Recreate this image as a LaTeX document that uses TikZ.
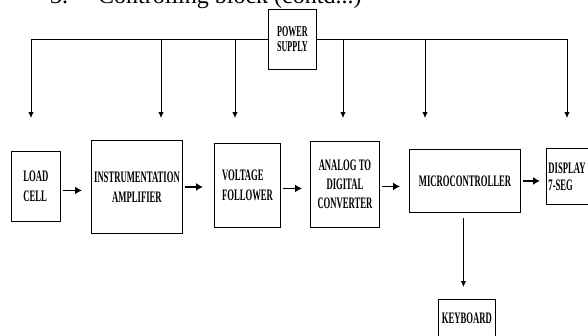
\documentclass[tikz,border=0pt]{standalone}
\usepackage{fontspec}
\setmainfont{Liberation Serif}
\newfontfamily\boxfont{Liberation Serif Bold}[FakeStretch=0.54]
\usetikzlibrary{arrows.meta}
\begin{document}
\begin{tikzpicture}[x=1pt,y=-1pt,
  blk/.style={draw=black, line width=0.9pt, inner sep=0pt, anchor=north west, align=center,
    font=\boxfont\fontsize{16}{20}\selectfont},
  pwr/.style={line width=0.8pt, -{Latex[length=6pt,width=5.5pt]}},
  flow/.style={line width=1.4pt, -{Latex[length=7pt,width=8pt]}, shorten <=2.5pt, shorten >=8pt},
  ttl/.style={anchor=base west, inner sep=0pt, font=\fontsize{24}{27}\selectfont}]
\useasboundingbox (0,0) rectangle (588,335);
\clip (0,0) rectangle (588,335);
% title (cut at top edge, as in the source)
\node[ttl] (title) at (50,3) {3.\hspace{30pt}Controlling block (contd...)};
% boxes
\node[blk, minimum width=48pt, minimum height=60pt, align=left,
  font=\boxfont\fontsize{15}{15}\selectfont] (ps) at (268,9) {POWER\\SUPPLY};
\node[blk, minimum width=49pt, minimum height=70pt, align=left] (lc) at (11,151) {LOAD\\CELL};
\node[blk, minimum width=91pt, minimum height=93pt] (ia) at (91,140) {INSTRUMENTATION\\AMPLIFIER};
\node[blk, minimum width=66pt, minimum height=84pt, align=left] (vf) at (214,143) {VOLTAGE\\FOLLOWER};
\node[blk, minimum width=69pt, minimum height=86pt,
  font=\boxfont\fontsize{16}{19}\selectfont] (adc) at (310,141) {ANALOG TO\\DIGITAL\\CONVERTER};
\node[blk, minimum width=111pt, minimum height=63pt] (mc) at (409,149) {MICROCONTROLLER};
\node[blk, text width=76pt, inner xsep=2pt, minimum height=56pt, align=left,
  font=\boxfont\fontsize{16}{17}\selectfont] (disp) at (546,148) {DISPLAY\\7-SEG};
\node[blk, minimum width=57pt, minimum height=38pt] (kb) at (438,299) {KEYBOARD};
% power distribution
\coordinate (t1) at (31,118);
\coordinate (t2) at (161,118);
\coordinate (t3) at (235,118);
\coordinate (t4) at (343,118);
\coordinate (t5) at (425,118);
\coordinate (t6) at (567,118);
\draw[pwr] (ps.west) -| (t1);
\draw[pwr] (ps.east) -| (t6);
\draw[pwr] (t2 |- ps.west) -- (t2);
\draw[pwr] (t3 |- ps.west) -- (t3);
\draw[pwr] (t4 |- ps.east) -- (t4);
\draw[pwr] (t5 |- ps.east) -- (t5);
% signal flow
\draw[flow, shorten >=9pt] ([yshift=-4pt]lc.east) -- ([yshift=-4pt]lc.east -| ia.west);
\draw[flow, shorten >=11pt, shorten <=2pt] (ia.east) -- (ia.east -| vf.west);
\draw[flow] ([yshift=-3pt]vf.east) -- ([yshift=-3pt]vf.east -| adc.west);
\draw[flow, shorten >=9pt] ([yshift=-2pt]adc.east) -- ([yshift=-2pt]adc.east -| mc.west);
\draw[flow, shorten >=6pt, shorten <=2pt] (mc.east) -- (mc.east -| disp.west);
\draw[pwr, shorten <=5pt, shorten >=12pt] ([xshift=-1.5pt]mc.south) -- ([xshift=-1.5pt]mc.south |- kb.north);
\end{tikzpicture}
\end{document}
